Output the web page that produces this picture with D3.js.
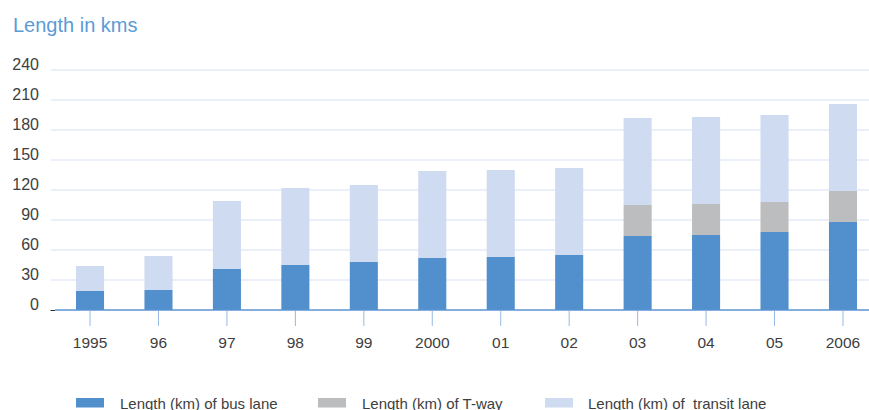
<!DOCTYPE html>
<html>
<head>
<meta charset="utf-8">
<script src="https://cdn.jsdelivr.net/npm/d3@7"></script>
<style>
  html, body { margin: 0; padding: 0; background: #fff; }
  svg { display: block; font-family: "Liberation Sans", Arial, sans-serif; }
  text { white-space: pre; }
</style>
</head>
<body>
<svg id="chart" width="869" height="410"></svg>
<script>
// Length of priority lanes by year (km)
const years = ["1995", "96", "97", "98", "99", "2000", "01", "02", "03", "04", "05", "2006"];
const busLane = [19, 20, 41, 45, 48, 52, 53, 55, 74, 75, 78, 88];
const tWay = [0, 0, 0, 0, 0, 0, 0, 0, 31, 31, 30, 31];
const transitLane = [25, 34, 68, 77, 77, 87, 87, 87, 87, 87, 87, 87];
const yTicks = [0, 30, 60, 90, 120, 150, 180, 210, 240];

const seriesNames = ["Length (km) of bus lane", "Length (km) of T-way", "Length (km) of  transit lane"];
const seriesKeys = ["bus", "tway", "transit"];
const colors = { bus: "#5290cd", tway: "#bcbdbf", transit: "#cfdbf1" };

const rows = years.map((y, i) => ({ year: y, bus: busLane[i], tway: tWay[i], transit: transitLane[i] }));
const stacked = d3.stack().keys(seriesKeys)(rows);

const svg = d3.select("#chart");

const x = d3.scaleBand()
  .domain(years)
  .range([55.8, 877.2])
  .paddingInner(0.59)
  .paddingOuter(0.295);

const y = d3.scaleLinear().domain([0, 240]).range([310, 70]);

// title
svg.append("text")
  .attr("x", 13).attr("y", 32)
  .attr("fill", "#5b9bd5")
  .attr("font-size", 20)
  .text("Length in kms");

// horizontal gridlines
svg.append("g").selectAll("line")
  .data(yTicks.filter(t => t > 0))
  .join("line")
  .attr("x1", 51).attr("x2", 869)
  .attr("y1", d => y(d)).attr("y2", d => y(d))
  .attr("stroke", "#e3eaf7")
  .attr("stroke-width", 1.6);

// y tick labels
svg.append("g").selectAll("text")
  .data(yTicks)
  .join("text")
  .attr("x", 39).attr("y", d => y(d))
  .attr("text-anchor", "end")
  .attr("fill", "#3e3e3e")
  .attr("font-size", 16)
  .text(d => d);

// stacked bars
svg.append("g").selectAll("g")
  .data(stacked)
  .join("g")
  .attr("fill", d => colors[d.key])
  .selectAll("rect")
  .data(d => d)
  .join("rect")
  .attr("x", d => x(d.data.year))
  .attr("width", x.bandwidth())
  .attr("y", d => y(d[1]))
  .attr("height", d => y(d[0]) - y(d[1]));

// x axis baseline and tick marks
svg.append("line")
  .attr("x1", 55).attr("x2", 869)
  .attr("y1", y(0)).attr("y2", y(0))
  .attr("stroke", "#5b93d3").attr("stroke-width", 1.5);
svg.append("line")
  .attr("x1", 50.5).attr("x2", 55)
  .attr("y1", y(0) + 0.5).attr("y2", y(0) + 0.5)
  .attr("stroke", "#333").attr("stroke-width", 1);

svg.append("g").selectAll("line")
  .data(years)
  .join("line")
  .attr("x1", d => x(d) + x.bandwidth() / 2)
  .attr("x2", d => x(d) + x.bandwidth() / 2)
  .attr("y1", y(0) + 0.75).attr("y2", 326)
  .attr("stroke", "#97b9e4").attr("stroke-width", 1);

svg.append("g").selectAll("text")
  .data(years)
  .join("text")
  .attr("x", d => x(d) + x.bandwidth() / 2)
  .attr("y", 348)
  .attr("text-anchor", "middle")
  .attr("fill", "#3e3e3e")
  .attr("font-size", 15.5)
  .text(d => d);

// legend
const legendX = [76, 318, 545];
const legend = svg.append("g").selectAll("g")
  .data(seriesKeys)
  .join("g")
  .attr("transform", (d, i) => `translate(${legendX[i]},0)`);
legend.append("rect")
  .attr("x", 0).attr("y", 398)
  .attr("width", 28).attr("height", 9.5)
  .attr("fill", d => colors[d]);
legend.append("text")
  .attr("x", (d, i) => i === 2 ? 43 : 44)
  .attr("y", 408.5)
  .attr("fill", "#3e3e3e")
  .attr("font-size", 15)
  .text((d, i) => seriesNames[i]);
</script>
</body>
</html>
